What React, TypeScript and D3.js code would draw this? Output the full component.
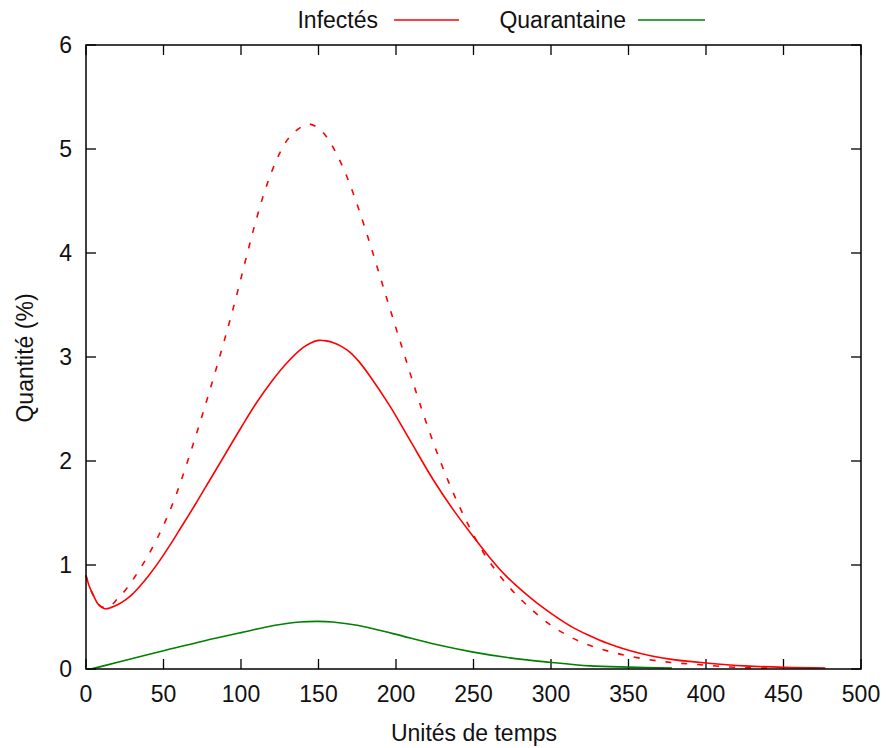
import React from "react";
import * as d3 from "d3";

const xTicks = [0, 50, 100, 150, 200, 250, 300, 350, 400, 450, 500];
const yTicks = [0, 1, 2, 3, 4, 5, 6];

const infectedT = [0, 2, 5, 8, 12, 16, 20, 25, 30, 35, 40, 47, 55, 60, 70, 80, 90, 100, 110, 120, 130, 140, 145, 150, 155, 160, 165, 170, 176, 183, 196, 209, 224, 237, 250, 260, 270, 280, 290, 300, 314, 325, 336, 350, 365, 380, 400, 425, 450, 477];
const infectedV = [0.9, 0.8, 0.7, 0.62, 0.58, 0.59, 0.615, 0.66, 0.72, 0.8, 0.89, 1.03, 1.21, 1.33, 1.57, 1.82, 2.07, 2.32, 2.56, 2.77, 2.95, 3.09, 3.135, 3.16, 3.155, 3.135, 3.1, 3.05, 2.958, 2.82, 2.53, 2.2, 1.82, 1.53, 1.27, 1.08, 0.91, 0.77, 0.645, 0.535, 0.4, 0.32, 0.25, 0.18, 0.125, 0.088, 0.058, 0.03, 0.016, 0.01];

const dashedT = [0, 2, 5, 8, 12, 16, 20, 26, 33, 40, 49, 57, 64.5, 75, 86, 95, 105, 110, 115, 120, 125, 130, 135, 143.5, 150, 155, 160, 165, 170, 176, 183, 190, 197, 205, 215, 228, 241, 256, 270, 284, 301, 320, 340, 361, 379, 394, 410, 426, 440];
const dashedV = [0.9, 0.8, 0.7, 0.62, 0.59, 0.61, 0.67, 0.77, 0.92, 1.09, 1.35, 1.63, 1.95, 2.44, 2.99, 3.47, 4.05, 4.33, 4.58, 4.79, 4.96, 5.09, 5.17, 5.24, 5.2, 5.12, 5.0, 4.85, 4.67, 4.42, 4.1, 3.76, 3.42, 3.04, 2.57, 2.02, 1.56, 1.13, 0.84, 0.62, 0.41, 0.255, 0.16, 0.095, 0.06, 0.044, 0.025, 0.012, 0.008];

const quarantineT = [0, 3, 10, 23, 50, 76, 100, 122, 138, 150, 159, 175, 198, 226, 249, 272, 299, 325, 350, 378];
const quarantineV = [0, 0.0, 0.025, 0.075, 0.175, 0.27, 0.35, 0.42, 0.452, 0.458, 0.452, 0.42, 0.34, 0.235, 0.165, 0.11, 0.065, 0.03, 0.018, 0.01];

const W = 886;
const H = 748;
const L = 86, R = 861, T = 45, B = 669;
const FONT = "'Liberation Sans', Arial, sans-serif";

export default function App() {
  const x = d3.scaleLinear().domain([0, 500]).range([L, R]);
  const y = d3.scaleLinear().domain([0, 6]).range([B, T]);
  const line = d3
    .line<[number, number]>()
    .x((d) => x(d[0]))
    .y((d) => y(d[1]))
    .curve(d3.curveCatmullRom.alpha(0.5));
  const zip = (a: number[], b: number[]) => a.map((t, i) => [t, b[i]] as [number, number]);
  const tl = 10;
  return (
    <svg width={W} height={H} style={{ position: "absolute", left: 0, top: 0, background: "#fff" }} fontFamily={FONT}>
      <rect x={0} y={0} width={W} height={H} fill="#fff" />
      {xTicks.map((t) => (
        <g key={"x" + t}>
          <line x1={x(t)} x2={x(t)} y1={B} y2={B - tl} stroke="#000" strokeWidth={1.3} />
          <line x1={x(t)} x2={x(t)} y1={T} y2={T + tl} stroke="#000" strokeWidth={1.3} />
          <text x={x(t)} y={B + 33} fontSize={23} textAnchor="middle" fill="#111">{t}</text>
        </g>
      ))}
      {yTicks.map((v) => (
        <g key={"y" + v}>
          <line x1={L} x2={L + tl} y1={y(v)} y2={y(v)} stroke="#000" strokeWidth={1.3} />
          <line x1={R} x2={R - tl} y1={y(v)} y2={y(v)} stroke="#000" strokeWidth={1.3} />
          <text x={72} y={y(v) + 8} fontSize={23} textAnchor="end" fill="#111">{v}</text>
        </g>
      ))}
      <path d={line(zip(dashedT, dashedV)) || ""} fill="none" stroke="#ff0000" strokeWidth={1.6} strokeDasharray="6,10" />
      <path d={line(zip(infectedT, infectedV)) || ""} fill="none" stroke="#ff0000" strokeWidth={1.6} />
      <path d={line(zip(quarantineT, quarantineV)) || ""} fill="none" stroke="#008000" strokeWidth={1.6} />
      <rect x={L} y={T} width={R - L} height={B - T} fill="none" stroke="#000" strokeWidth={1.5} />
      <text x={378} y={28} fontSize={23} textAnchor="end" fill="#111">Infectés</text>
      <line x1={394} x2={459} y1={20} y2={20} stroke="#ff0000" strokeWidth={1.6} />
      <text x={626} y={28} fontSize={23} textAnchor="end" fill="#111">Quarantaine</text>
      <line x1={638} x2={705} y1={20} y2={20} stroke="#008000" strokeWidth={1.6} />
      <text x={474} y={741} fontSize={23} textAnchor="middle" fill="#111">Unités de temps</text>
      <text transform={`translate(33,358) rotate(-90)`} fontSize={23} textAnchor="middle" fill="#111">Quantité (%)</text>
    </svg>
  );
}
